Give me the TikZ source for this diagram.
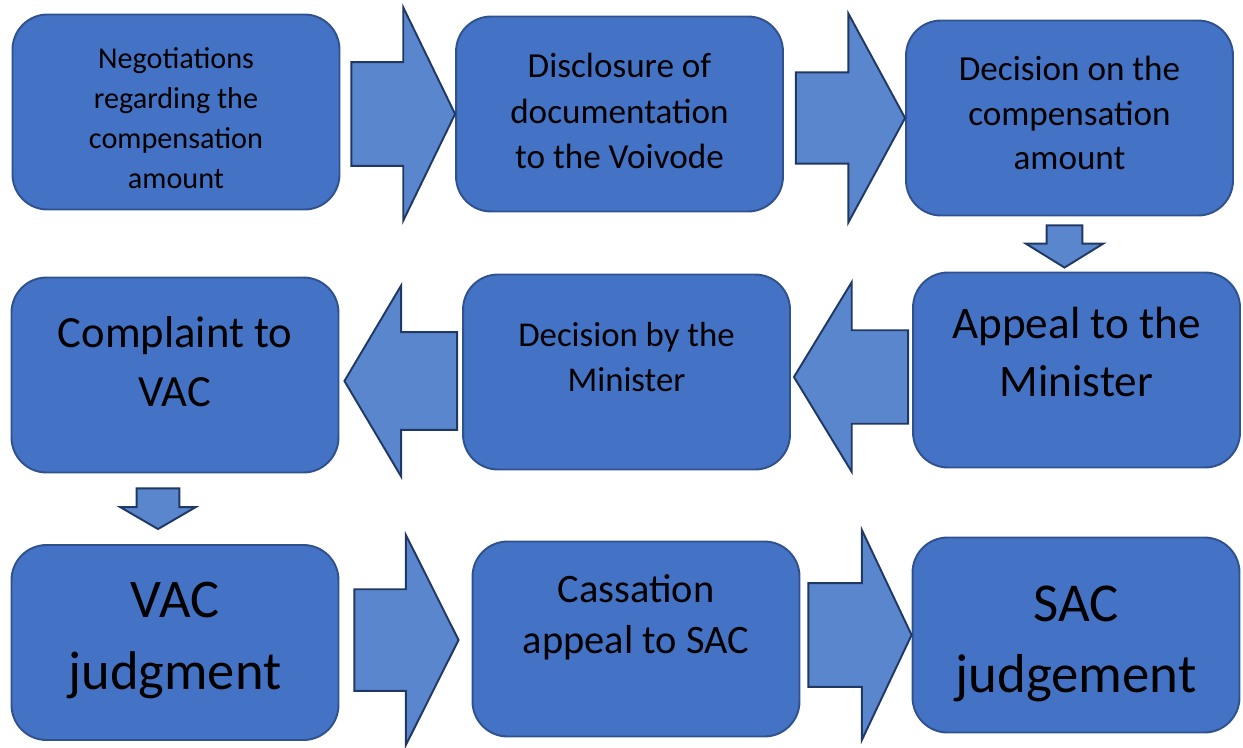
\documentclass[tikz,border=0pt]{standalone}
\usepackage{fontspec}
\setmainfont{Carlito}
\usetikzlibrary{calc}

\definecolor{boxfill}{HTML}{4472C4}
\definecolor{boxline}{HTML}{2F528F}
\definecolor{arrfill}{HTML}{5A86CD}
\definecolor{arrline}{HTML}{203864}

\begin{document}
\begin{tikzpicture}[
    x=0.02cm, y=-0.02cm,
    stage/.style={draw=boxline, fill=boxfill, line width=1.1pt, rounded corners=0.7cm,
        minimum width=6.54cm, minimum height=3.9cm, align=center, inner sep=0pt},
    blk/.style={draw=arrline, fill=arrfill, line width=1.1pt, line join=miter},
    rightblk/.style n args={3}{blk, to path={let \p1=(\tikztostart), \p2=(\tikztotarget) in
        (\x1,{\y2+#1}) -- ({\x2-#3},{\y2+#1}) -- ({\x2-#3},{\y2+#2}) -- (\x2,\y2)
        -- ({\x2-#3},{\y2-#2}) -- ({\x2-#3},{\y2-#1}) -- (\x1,{\y2-#1}) -- cycle}},
    leftblk/.style n args={3}{blk, to path={let \p1=(\tikztostart), \p2=(\tikztotarget) in
        (\x1,{\y2+#1}) -- ({\x2+#3},{\y2+#1}) -- ({\x2+#3},{\y2+#2}) -- (\x2,\y2)
        -- ({\x2+#3},{\y2-#2}) -- ({\x2+#3},{\y2-#1}) -- (\x1,{\y2-#1}) -- cycle}},
    downblk/.style n args={3}{blk, to path={let \p1=(\tikztostart), \p2=(\tikztotarget) in
        ({\x2+#1},\y1) -- ({\x2+#1},{\y2+#3}) -- ({\x2+#2},{\y2+#3}) -- (\x2,\y2)
        -- ({\x2-#2},{\y2+#3}) -- ({\x2-#1},{\y2+#3}) -- ({\x2-#1},\y1) -- cycle}}
]
    \useasboundingbox (0,0) rectangle (1243,747);

    % First row
    \node[stage, font=\fontsize{17.2}{22.7}\selectfont, text height=86.8pt, text depth=0pt] (neg) at (176,112)
        {Negotiations\\regarding the\\compensation\\amount};
    \node[stage, font=\fontsize{20}{26}\selectfont, text depth=3.4pt] (disc) at (619.5,114)
        {Disclosure of\\documentation\\to the Voivode};
    \node[stage, font=\fontsize{20}{25.5}\selectfont, text depth=5.7pt] (dec) at (1069.5,118)
        {Decision on the\\compensation\\amount};

    % Second row
    \node[stage, font=\fontsize{25.7}{33}\selectfont, text depth=21pt] (appeal) at (1076.5,370)
        {Appeal to the\\Minister};
    \node[stage, font=\fontsize{19.8}{25.5}\selectfont, text depth=17pt] (minister) at (626.5,372)
        {Decision by the\\Minister};
    \node[stage, font=\fontsize{25.4}{33.5}\selectfont, text depth=15pt] (complaint) at (175,375)
        {Complaint to\\VAC};

    % Third row
    \node[stage, font=\fontsize{31}{41}\selectfont, text depth=8pt] (vacj) at (175,642.5)
        {VAC\\judgment};
    \node[stage, font=\fontsize{23}{29.5}\selectfont, text depth=28.5pt] (cass) at (636,639)
        {Cassation\\appeal to SAC};
    \node[stage, font=\fontsize{31.2}{40.5}\selectfont, text height=72.8pt, text depth=7pt] (sacj) at (1076,635)
        {SAC\\judgement};

    % Start points of the block arrows
    \coordinate (s1) at ($(neg.east)+(11,0)$);
    \coordinate (s2) at ($(disc.east)+(12,0)$);
    \coordinate (s3) at ($(dec.south)+(-5,9)$);
    \coordinate (s4) at ($(appeal.west)+(-4,0)$);
    \coordinate (s5) at ($(minister.west)+(-5,0)$);
    \coordinate (s6) at ($(complaint.south)+(-17,15)$);
    \coordinate (s7) at ($(vacj.east)+(15,0)$);
    \coordinate (s8) at ($(cass.east)+(8,0)$);

    % Block arrows
    \draw[rightblk={29.5pt}{60.7pt}{29.5pt}] (s1) to (disc.west);
    \draw[rightblk={26pt}{59.5pt}{32.3pt}] (s2) to (dec.west);
    \draw[downblk={10.2pt}{22pt}{13.6pt}] (s3) to ($(appeal.north)+(-12,-4)$);
    \draw[leftblk={26.6pt}{54pt}{32.9pt}] (s4) to ($(minister.east)+(3,5)$);
    \draw[leftblk={27.8pt}{54.4pt}{32.3pt}] (s5) to ($(complaint.east)+(5,6)$);
    \draw[downblk={12.2pt}{21.5pt}{12.5pt}] (s6) to ($(vacj.north)+(-17,-15)$);
    \draw[rightblk={28.9pt}{59.8pt}{30pt}] (s7) to ($(cass.west)+(-13,1)$);
    \draw[rightblk={29.5pt}{59.8pt}{28.3pt}] (s8) to (sacj.west);

\end{tikzpicture}
\end{document}
